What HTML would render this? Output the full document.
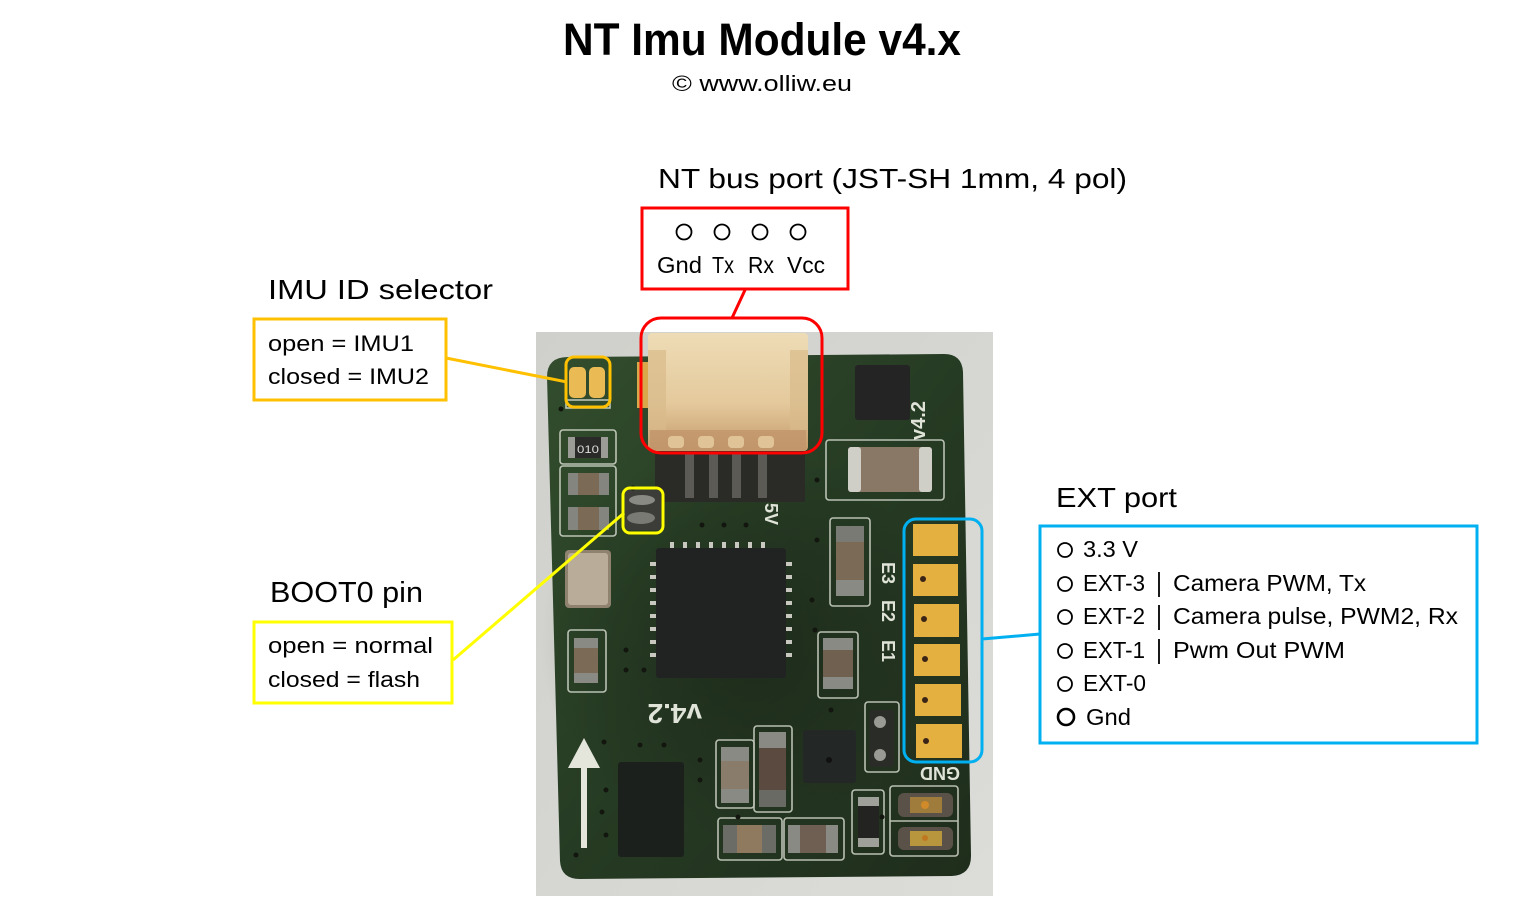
<!DOCTYPE html>
<html><head><meta charset="utf-8"><style>
html,body{margin:0;padding:0;background:#fff;}
svg{display:block;}
text{font-family:"Liberation Sans",sans-serif;fill:#000;}
</style></head><body>
<svg width="1522" height="918" viewBox="0 0 1522 918" xmlns="http://www.w3.org/2000/svg">
<defs>
<linearGradient id="bg" x1="0" y1="0" x2="1" y2="1">
<stop offset="0" stop-color="#cfd0cb"/><stop offset="1" stop-color="#dcdcd8"/>
</linearGradient>
<linearGradient id="pcb" x1="0" y1="0" x2="1" y2="1">
<stop offset="0" stop-color="#324d2d"/><stop offset="0.5" stop-color="#263b23"/><stop offset="1" stop-color="#1f2d1c"/>
</linearGradient>
<radialGradient id="shade" cx="0.5" cy="0.5" r="0.5">
<stop offset="0" stop-color="#141a12" stop-opacity="0.45"/><stop offset="1" stop-color="#141a12" stop-opacity="0"/>
</radialGradient>
<linearGradient id="conn" x1="0" y1="0" x2="0" y2="1">
<stop offset="0" stop-color="#eedcb6"/><stop offset="0.6" stop-color="#e4c99c"/><stop offset="1" stop-color="#c49a68"/>
</linearGradient>
</defs>

<!-- Titles -->
<text x="563" y="55" font-size="45" font-weight="bold" textLength="398" lengthAdjust="spacingAndGlyphs">NT Imu Module v4.x</text>
<text x="672" y="91" font-size="22" textLength="180" lengthAdjust="spacingAndGlyphs">© www.olliw.eu</text>

<text x="658" y="188" font-size="28" textLength="469" lengthAdjust="spacingAndGlyphs">NT bus port (JST-SH 1mm, 4 pol)</text>
<text x="268" y="299" font-size="28" textLength="225" lengthAdjust="spacingAndGlyphs">IMU ID selector</text>
<text x="270" y="602" font-size="29" textLength="153" lengthAdjust="spacingAndGlyphs">BOOT0 pin</text>
<text x="1056" y="507" font-size="28" textLength="121" lengthAdjust="spacingAndGlyphs">EXT port</text>

<!-- Photo background -->
<rect x="536" y="332" width="457" height="564" fill="url(#bg)"/>
<!-- PCB -->
<path d="M568 357 L944 354 Q962 354 963 372 L971 856 Q971 875 952 876 L580 879 Q561 879 560 861 L547 377 Q547 357 568 357 Z" fill="url(#pcb)"/>
<ellipse cx="740" cy="640" rx="200" ry="200" fill="url(#shade)"/>

<!-- silkscreen outlines -->
<g fill="none" stroke="#dfe3d8" stroke-width="1.6" opacity="0.8">
<rect x="560" y="430" width="56" height="34" rx="3"/>
<rect x="560" y="466" width="56" height="70" rx="3"/>
<rect x="568" y="630" width="38" height="62" rx="3"/>
<rect x="826" y="440" width="118" height="60" rx="3"/>
<rect x="830" y="518" width="40" height="88" rx="3"/>
<rect x="818" y="632" width="40" height="66" rx="3"/>
<rect x="716" y="740" width="38" height="68" rx="3"/>
<rect x="754" y="726" width="38" height="86" rx="3"/>
<rect x="865" y="702" width="34" height="70" rx="3"/>
<rect x="718" y="818" width="64" height="42" rx="3"/>
<rect x="784" y="818" width="60" height="42" rx="3"/>
<rect x="852" y="790" width="32" height="64" rx="3"/>
<rect x="890" y="786" width="68" height="70" rx="3"/>
<line x1="890" y1="821" x2="958" y2="821"/>
<rect x="566" y="400" width="44" height="8"/>
</g>

<!-- IMU ID pads -->
<rect x="569" y="367" width="17" height="31" rx="5" fill="#eabb55"/>
<rect x="589" y="367" width="16" height="31" rx="5" fill="#eabb55"/>
<!-- gold pad near connector -->
<rect x="637" y="362" width="13" height="46" fill="#d9a84a"/>

<!-- connector pins area -->
<rect x="655" y="446" width="150" height="56" fill="#2a2b26"/>
<rect x="685" y="452" width="9" height="46" fill="#5c5a54"/>
<rect x="709" y="452" width="9" height="46" fill="#5c5a54"/>
<rect x="732" y="452" width="9" height="46" fill="#5c5a54"/>
<rect x="758" y="452" width="9" height="46" fill="#5c5a54"/>
<!-- connector body -->
<rect x="648" y="333" width="160" height="118" rx="4" fill="url(#conn)"/>
<rect x="648" y="350" width="18" height="80" fill="#d9bb8a" opacity="0.7"/>
<rect x="790" y="350" width="18" height="80" fill="#d9bb8a" opacity="0.7"/>
<rect x="650" y="430" width="156" height="20" fill="#c0956a" opacity="0.8"/>
<g fill="#e0c498"><rect x="668" y="436" width="16" height="12" rx="4"/><rect x="698" y="436" width="16" height="12" rx="4"/><rect x="728" y="436" width="16" height="12" rx="4"/><rect x="758" y="436" width="16" height="12" rx="4"/></g>

<!-- top-right chip -->
<rect x="855" y="365" width="55" height="55" rx="3" fill="#232423"/>
<!-- big cap -->
<rect x="848" y="447" width="84" height="45" rx="4" fill="#8a7866"/>
<rect x="848" y="447" width="13" height="45" rx="3" fill="#cfcfc8"/>
<rect x="919" y="447" width="13" height="45" rx="3" fill="#cfcfc8"/>

<!-- left resistor -->
<rect x="568" y="437" width="40" height="21" rx="3" fill="#2a2a28"/>
<rect x="568" y="437" width="7" height="21" fill="#9c9c96"/>
<rect x="601" y="437" width="7" height="21" fill="#9c9c96"/>
<text x="577" y="453" font-size="11" style="fill:#ddd" textLength="22" lengthAdjust="spacingAndGlyphs">010</text>
<!-- left caps -->
<rect x="568" y="473" width="41" height="22" rx="3" fill="#7b6a56"/>
<rect x="568" y="473" width="10" height="22" fill="#85857f"/>
<rect x="599" y="473" width="10" height="22" fill="#85857f"/>
<rect x="568" y="507" width="41" height="23" rx="3" fill="#7b6a56"/>
<rect x="568" y="507" width="10" height="23" fill="#85857f"/>
<rect x="599" y="507" width="10" height="23" fill="#85857f"/>

<!-- boot0 solder -->
<rect x="625" y="490" width="36" height="40" rx="4" fill="#3c3d39"/>
<ellipse cx="642" cy="500" rx="13" ry="5" fill="#8a8a84"/>
<ellipse cx="641" cy="518" rx="14" ry="6" fill="#7a7a74"/>

<!-- crystal -->
<rect x="565" y="550" width="46" height="58" rx="4" fill="#8f826f"/>
<rect x="568" y="553" width="40" height="52" rx="3" fill="#b9ad9a"/>

<!-- MCU -->
<g fill="#c8c8c0">
<rect x="670" y="542" width="4" height="6"/><rect x="683" y="542" width="4" height="6"/><rect x="696" y="542" width="4" height="6"/><rect x="709" y="542" width="4" height="6"/><rect x="722" y="542" width="4" height="6"/><rect x="735" y="542" width="4" height="6"/><rect x="748" y="542" width="4" height="6"/><rect x="761" y="542" width="4" height="6"/>
<rect x="786" y="562" width="6" height="4"/><rect x="786" y="575" width="6" height="4"/><rect x="786" y="588" width="6" height="4"/><rect x="786" y="601" width="6" height="4"/><rect x="786" y="614" width="6" height="4"/><rect x="786" y="627" width="6" height="4"/><rect x="786" y="640" width="6" height="4"/><rect x="786" y="653" width="6" height="4"/>
<rect x="650" y="562" width="6" height="4"/><rect x="650" y="575" width="6" height="4"/><rect x="650" y="588" width="6" height="4"/><rect x="650" y="601" width="6" height="4"/><rect x="650" y="614" width="6" height="4"/><rect x="650" y="627" width="6" height="4"/><rect x="650" y="640" width="6" height="4"/><rect x="650" y="653" width="6" height="4"/>
</g>
<rect x="656" y="548" width="130" height="130" rx="3" fill="#202322"/>

<!-- lower-left cap -->
<rect x="574" y="638" width="24" height="45" rx="3" fill="#7b6a56"/>
<rect x="574" y="638" width="24" height="10" fill="#8a8a84"/>
<rect x="574" y="673" width="24" height="10" fill="#8a8a84"/>

<!-- right caps -->
<rect x="836" y="526" width="28" height="70" rx="3" fill="#7b6a56"/>
<rect x="836" y="526" width="28" height="16" fill="#7a7a74"/>
<rect x="836" y="580" width="28" height="16" fill="#8a8a84"/>
<rect x="823" y="638" width="30" height="51" rx="3" fill="#6f6050"/>
<rect x="823" y="638" width="30" height="12" fill="#8a8a84"/>
<rect x="823" y="677" width="30" height="12" fill="#8a8a84"/>

<!-- EXT pads -->
<g fill="#e4b140">
<rect x="913" y="524" width="45" height="32"/>
<rect x="913" y="564" width="45" height="32"/>
<rect x="914" y="604" width="45" height="33"/>
<rect x="914" y="644" width="46" height="32"/>
<rect x="915" y="684" width="46" height="32"/>
<rect x="916" y="724" width="46" height="34"/>
</g>
<g fill="#3a2418">
<circle cx="923" cy="579" r="3"/><circle cx="924" cy="619" r="3"/><circle cx="925" cy="659" r="3"/><circle cx="925" cy="700" r="3"/><circle cx="926" cy="741" r="3"/>
</g>

<!-- silk text -->
<g font-weight="bold">
<text x="0" y="0" transform="translate(925,440) rotate(-90)" style="fill:#dfe3d8" font-size="20">v4.2</text>
<text x="0" y="0" transform="translate(882,562) rotate(90)" style="fill:#dfe3d8" font-size="18">E3</text>
<text x="0" y="0" transform="translate(882,600) rotate(90)" style="fill:#dfe3d8" font-size="18">E2</text>
<text x="0" y="0" transform="translate(882,640) rotate(90)" style="fill:#dfe3d8" font-size="18">E1</text>
<text x="0" y="0" transform="translate(960,767) rotate(180)" style="fill:#dfe3d8" font-size="18">GND</text>
<text x="0" y="0" transform="translate(702,704) rotate(180)" style="fill:#dfe3d8" font-size="28">v4.2</text>
<text x="0" y="0" transform="translate(765,503) rotate(90)" style="fill:#dfe3d8" font-size="18">5V</text>
</g>

<!-- arrow -->
<g fill="#e4e6dc">
<rect x="581" y="758" width="6" height="90"/>
<polygon points="568,768 584,738 600,768"/>
</g>

<!-- bottom-left chip -->
<rect x="618" y="762" width="66" height="95" rx="3" fill="#1c201d"/>
<!-- sensor chip -->
<rect x="803" y="730" width="53" height="53" rx="3" fill="#232725"/>
<circle cx="829" cy="760" r="3" fill="#111"/>

<!-- bottom middle caps -->
<rect x="721" y="747" width="28" height="56" rx="4" fill="#8a7c6a"/>
<rect x="721" y="747" width="28" height="14" fill="#8a8a84"/>
<rect x="721" y="789" width="28" height="14" fill="#8a8a84"/>
<rect x="759" y="732" width="27" height="75" rx="4" fill="#5a4a40"/>
<rect x="759" y="732" width="27" height="16" fill="#8a8a84"/>
<rect x="759" y="790" width="27" height="17" fill="#6a6a64"/>

<!-- right pair -->
<rect x="869" y="710" width="25" height="57" rx="3" fill="#2a2c28"/>
<circle cx="880" cy="722" r="6" fill="#9a9a94"/>
<circle cx="880" cy="755" r="6" fill="#9a9a94"/>

<!-- bottom caps -->
<rect x="723" y="825" width="53" height="28" rx="4" fill="#8f7a60"/>
<rect x="723" y="825" width="14" height="28" fill="#6c6c66"/>
<rect x="762" y="825" width="14" height="28" fill="#6c6c66"/>
<rect x="788" y="825" width="50" height="28" rx="4" fill="#6f5f52"/>
<rect x="788" y="825" width="12" height="28" fill="#8a8a84"/>
<rect x="826" y="825" width="12" height="28" fill="#8a8a84"/>

<!-- resistor -->
<rect x="858" y="797" width="21" height="50" rx="4" fill="#232322"/>
<rect x="858" y="797" width="21" height="9" fill="#a0a09a"/>
<rect x="858" y="838" width="21" height="9" fill="#a0a09a"/>

<!-- LEDs -->
<rect x="898" y="793" width="55" height="24" rx="6" fill="#5a5248"/>
<rect x="910" y="797" width="32" height="16" fill="#a07c3c"/>
<circle cx="925" cy="805" r="4" fill="#d08a2a"/>
<rect x="898" y="827" width="55" height="23" rx="6" fill="#5a5248"/>
<rect x="910" y="831" width="32" height="15" fill="#b8963e"/>
<circle cx="925" cy="838" r="3" fill="#c07820"/>

<!-- vias -->
<g fill="#12160f">
<circle cx="561" cy="409" r="2.5"/><circle cx="633" cy="488" r="2.5"/><circle cx="702" cy="525" r="2.5"/><circle cx="724" cy="525" r="2.5"/><circle cx="746" cy="525" r="2.5"/>
<circle cx="817" cy="480" r="2.5"/><circle cx="817" cy="540" r="2.5"/><circle cx="812" cy="600" r="2.5"/><circle cx="815" cy="630" r="2.5"/>
<circle cx="626" cy="650" r="2.5"/><circle cx="626" cy="670" r="2.5"/><circle cx="644" cy="670" r="2.5"/>
<circle cx="604" cy="742" r="2.5"/><circle cx="640" cy="745" r="2.5"/><circle cx="664" cy="745" r="2.5"/><circle cx="700" cy="760" r="2.5"/><circle cx="700" cy="780" r="2.5"/>
<circle cx="606" cy="790" r="2.5"/><circle cx="602" cy="812" r="2.5"/><circle cx="606" cy="835" r="2.5"/><circle cx="576" cy="855" r="2.5"/>
<circle cx="738" cy="817" r="2.5"/><circle cx="831" cy="710" r="2.5"/><circle cx="882" cy="817" r="2.5"/>
</g>

<!-- Annotation boxes -->
<rect x="642" y="208" width="206" height="81" fill="none" stroke="#ff0000" stroke-width="3"/>
<g fill="none" stroke="#000" stroke-width="1.8">
<circle cx="684" cy="232" r="7.5"/><circle cx="722" cy="232" r="7.5"/><circle cx="760" cy="232" r="7.5"/><circle cx="798" cy="232" r="7.5"/>
</g>
<text x="657" y="273" font-size="23" textLength="45" lengthAdjust="spacingAndGlyphs">Gnd</text>
<text x="712" y="273" font-size="23" textLength="22" lengthAdjust="spacingAndGlyphs">Tx</text>
<text x="748" y="273" font-size="23" textLength="26" lengthAdjust="spacingAndGlyphs">Rx</text>
<text x="787" y="273" font-size="23" textLength="38" lengthAdjust="spacingAndGlyphs">Vcc</text>
<line x1="745" y1="290" x2="732" y2="318" stroke="#ff0000" stroke-width="3"/>
<rect x="641" y="318" width="181" height="135" rx="20" fill="none" stroke="#ff0000" stroke-width="3"/>

<rect x="254" y="319" width="192" height="81" fill="none" stroke="#ffc000" stroke-width="3"/>
<text x="268" y="351" font-size="22" textLength="146" lengthAdjust="spacingAndGlyphs">open = IMU1</text>
<text x="268" y="384" font-size="22" textLength="161" lengthAdjust="spacingAndGlyphs">closed = IMU2</text>
<line x1="446" y1="358" x2="567" y2="382" stroke="#ffc000" stroke-width="3"/>
<rect x="566" y="357" width="44" height="50" rx="8" fill="none" stroke="#ffc000" stroke-width="3"/>

<rect x="254" y="622" width="198" height="81" fill="none" stroke="#ffff00" stroke-width="3"/>
<text x="268" y="653" font-size="22" textLength="165" lengthAdjust="spacingAndGlyphs">open = normal</text>
<text x="268" y="687" font-size="22" textLength="152" lengthAdjust="spacingAndGlyphs">closed = flash</text>
<line x1="453" y1="660" x2="624" y2="513" stroke="#ffff00" stroke-width="3"/>
<rect x="623" y="488" width="40" height="45" rx="7" fill="none" stroke="#ffff00" stroke-width="3"/>

<rect x="904" y="519" width="78" height="243" rx="12" fill="none" stroke="#00b0f0" stroke-width="3"/>
<line x1="982" y1="639" x2="1040" y2="634" stroke="#00b0f0" stroke-width="3"/>
<rect x="1040" y="526" width="437" height="217" fill="none" stroke="#00b0f0" stroke-width="3"/>
<g fill="none" stroke="#000" stroke-width="1.8">
<circle cx="1065" cy="550" r="7"/><circle cx="1065" cy="584" r="7"/><circle cx="1065" cy="617" r="7"/><circle cx="1065" cy="651" r="7"/><circle cx="1065" cy="684" r="7"/>
<circle cx="1066" cy="717" r="8" stroke-width="2.6"/>
</g>
<text x="1083" y="557" font-size="23" textLength="55" lengthAdjust="spacingAndGlyphs">3.3 V</text>
<text x="1083" y="591" font-size="23" textLength="62" lengthAdjust="spacingAndGlyphs">EXT-3</text>
<text x="1173" y="591" font-size="23" textLength="193" lengthAdjust="spacingAndGlyphs">Camera PWM, Tx</text>
<text x="1083" y="624" font-size="23" textLength="62" lengthAdjust="spacingAndGlyphs">EXT-2</text>
<text x="1173" y="624" font-size="23" textLength="285" lengthAdjust="spacingAndGlyphs">Camera pulse, PWM2, Rx</text>
<text x="1083" y="658" font-size="23" textLength="62" lengthAdjust="spacingAndGlyphs">EXT-1</text>
<text x="1173" y="658" font-size="23" textLength="172" lengthAdjust="spacingAndGlyphs">Pwm Out PWM</text>
<text x="1083" y="691" font-size="23" textLength="63" lengthAdjust="spacingAndGlyphs">EXT-0</text>
<text x="1086" y="725" font-size="23" textLength="45" lengthAdjust="spacingAndGlyphs">Gnd</text>
<g stroke="#000" stroke-width="1.8">
<line x1="1159" y1="572" x2="1159" y2="597"/>
<line x1="1159" y1="605" x2="1159" y2="630"/>
<line x1="1159" y1="639" x2="1159" y2="664"/>
</g>
</svg>
</body></html>
